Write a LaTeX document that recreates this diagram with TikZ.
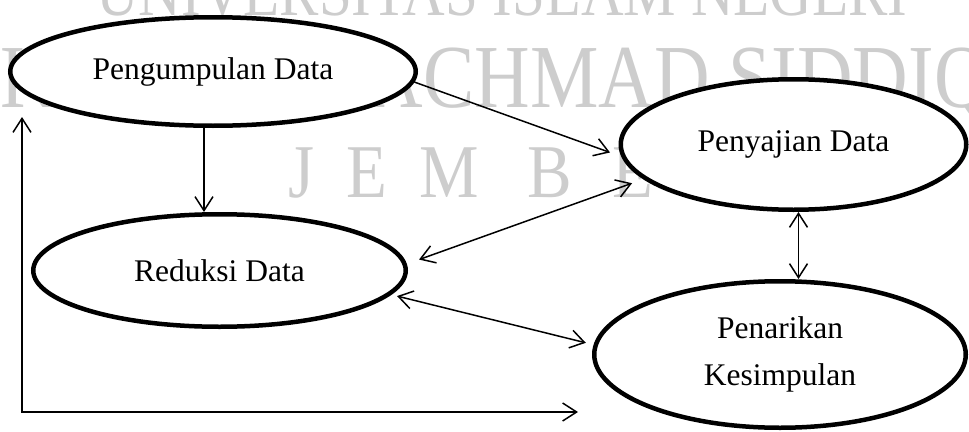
\documentclass[tikz,border=0pt]{standalone}
\usepackage{fontspec}
\usepackage{graphicx}
\setmainfont{Liberation Serif}
\usetikzlibrary{shapes.geometric,arrows.meta}
\definecolor{wm}{RGB}{205,205,205}
\begin{document}
\begin{tikzpicture}[x=1pt,y=-1pt,
  stage/.style={ellipse, draw, line width=4.5pt, fill=white, inner sep=0pt, align=center,
    font=\fontsize{31.5}{47}\selectfont},
  arr/.style={-{Straight Barb[length=14pt,width=18pt]}, line width=1.5pt},
  darr/.style={{Straight Barb[length=14pt,width=18pt]}-{Straight Barb[length=14pt,width=18pt]}, line width=1.5pt},
  wmark/.style={text=wm, inner sep=0pt, anchor=base west}]
\useasboundingbox (0,0) rectangle (969,431);
\clip (0,0) rectangle (969,431);
% watermark
\node[wmark, font=\fontsize{69}{69}\selectfont] (wm1) at (96,16) {\scalebox{0.855}[1]{UNIVERSITAS ISLAM NEGERI}};
\node[wmark, font=\fontsize{90}{90}\selectfont] (wm2) at (0,107) {\scalebox{0.855}[1]{KIAI HAJI ACHMAD SIDDIQ}};
\node[wmark, font=\fontsize{76}{76}\selectfont] (wmJ) at (288,197) {\scalebox{0.88}[1]{J}};
\node[wmark, font=\fontsize{76}{76}\selectfont] (wmE) at (346,197) {\scalebox{0.88}[1]{E}};
\node[wmark, font=\fontsize{76}{76}\selectfont] (wmM) at (419,197) {\scalebox{0.88}[1]{M}};
\node[wmark, font=\fontsize{76}{76}\selectfont] (wmB) at (527,197) {\scalebox{0.88}[1]{B}};
\node[wmark, font=\fontsize{76}{76}\selectfont] (wmE2) at (612,197) {\scalebox{0.88}[1]{E}};
\node[wmark, font=\fontsize{76}{76}\selectfont] (wmR) at (700,197) {\scalebox{0.88}[1]{R}};
% stages
\node[stage, minimum width=405.5pt, minimum height=108.5pt] (e1) at (213,71.5) {Pengumpulan Data};
\node[stage, minimum width=345.5pt, minimum height=130.5pt] (e2) at (793.5,144.5) {Penyajian Data};
\node[stage, minimum width=372.5pt, minimum height=112.5pt] (e3) at (219.5,270.5) {Reduksi Data};
\node[stage, minimum width=371.5pt, minimum height=146.5pt] (e4) at (780,354.5) {Penarikan\\Kesimpulan};
% connectors
\draw[arr] ([xshift=-9pt]e1.south) -- ([xshift=-9pt]e1.south |- e3.north);
\draw[arr, shorten >=12pt] (e1.-3) -- (e2.184);
\draw[darr, shorten <=13pt, shorten >=12pt] (e3.2.6) -- (e2.193.3);
\draw[darr] ([xshift=5pt]e2.south) -- ([xshift=5pt]e2.south |- e4.north);
\draw[darr, shorten <=6pt, shorten >=8pt] (e3.-8.4) -- (e4.177.8);
\coordinate (fb1) at (22,117);
\coordinate (fb3) at (578,412);
\draw[darr] (fb1) |- (fb3);
\end{tikzpicture}
\end{document}
